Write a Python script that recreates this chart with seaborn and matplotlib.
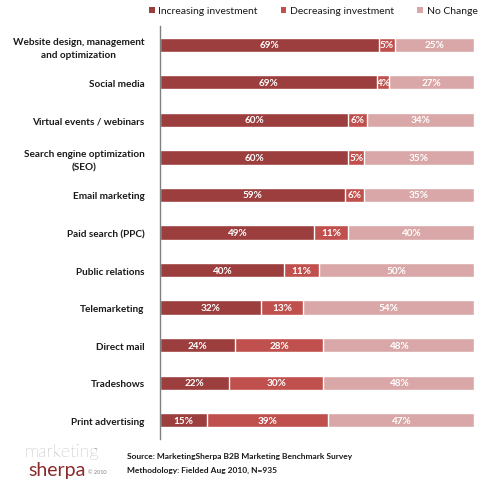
import matplotlib
matplotlib.use("Agg")
import matplotlib.pyplot as plt
import seaborn as sns
import pandas as pd
import numpy as np
from matplotlib.patches import Patch

categories = ["Website design, management\nand optimization", "Social media", "Virtual events / webinars",
              "Search engine optimization\n(SEO)", "Email marketing", "Paid search (PPC)", "Public relations",
              "Telemarketing", "Direct mail", "Tradeshows", "Print advertising"]
increasing = [69, 69, 60, 60, 59, 49, 40, 32, 24, 22, 15]
decreasing = [5, 4, 6, 5, 6, 11, 11, 13, 28, 30, 39]
no_change = [25, 27, 34, 35, 35, 40, 50, 54, 48, 48, 47]
series_names = ["Increasing investment", "Decreasing investment", "No Change"]
colors = ["#9C3E3E", "#C0504D", "#D9A7A7"]

sns.set_theme(style="white")
plt.rcParams['font.family'] = ['Lato', 'DejaVu Sans']

df = pd.DataFrame({"cat": categories, "inc": increasing, "dec": decreasing, "nc": no_change})
tot = df["inc"] + df["dec"] + df["nc"]
# bars are drawn as shares of each row's total (100% stacked)
df["c1"] = df["inc"] / tot * 100
df["c2"] = (df["inc"] + df["dec"]) / tot * 100
df["c3"] = 100.0

fig = plt.figure(figsize=(4.84, 4.81), dpi=100)
ax = fig.add_axes([160/484, 1-440/481, 314/484, 413/481])

for col, c in zip(["c3", "c2", "c1"], colors[::-1]):
    sns.barplot(data=df, y="cat", x=col, color=c, orient="y", width=0.38,
                edgecolor="white", linewidth=1.0, ax=ax, saturation=1)

ax.set_xlim(0, 100)
ax.set_ylim(10.5, -0.5)
ax.set_xlabel("")
ax.set_ylabel("")
ax.set_xticks([])
for s in ["top", "right", "bottom"]:
    ax.spines[s].set_visible(False)
ax.spines["left"].set_color("#808080")
ax.spines["left"].set_linewidth(1)
ax.tick_params(axis="y", length=0, pad=11)
ax.set_yticks(range(len(categories)))
ax.set_yticklabels(categories, fontsize=7.2, fontweight="bold", color="#1a1a1a", ha="right",
                   multialignment="center", linespacing=1.6)

for i in range(len(categories)):
    t = increasing[i] + decreasing[i] + no_change[i]
    vals = [increasing[i], decreasing[i], no_change[i]]
    start = 0.0
    for v in vals:
        w = v / t * 100
        ax.text(start + w/2, i, f"{v}%", ha="center", va="center", color="white",
                fontsize=7.2, fontweight="bold")
        start += w

handles = [Patch(facecolor=c, edgecolor="none") for c in colors]
fig.legend(handles, series_names, loc="center", bbox_to_anchor=(0.647, 1-12/481), ncol=3,
           frameon=False, fontsize=7.5, handlelength=0.55, handleheight=0.55, handletextpad=0.35,
           columnspacing=2.2, labelcolor="#1a1a1a")

fig.text(127/484, 1-456/481, "Source: MarketingSherpa B2B Marketing Benchmark Survey",
         fontsize=6, fontweight="bold", color="#1a1a1a", va="center")
fig.text(127/484, 1-470/481, "Methodology: Fielded Aug 2010, N=935",
         fontsize=6, fontweight="bold", color="#1a1a1a", va="center")

fig.text(24/484, 1-452/481, "marketing", fontsize=13, color="#808080", va="center", fontweight="light")
fig.text(28/484, 1-471/481, "sherpa", fontsize=14, color="#8B2A2A", va="center")
fig.text(88/484, 1-473/481, "© 2010", fontsize=4, color="#808080", va="center")

fig.savefig("out.png", dpi=100)
